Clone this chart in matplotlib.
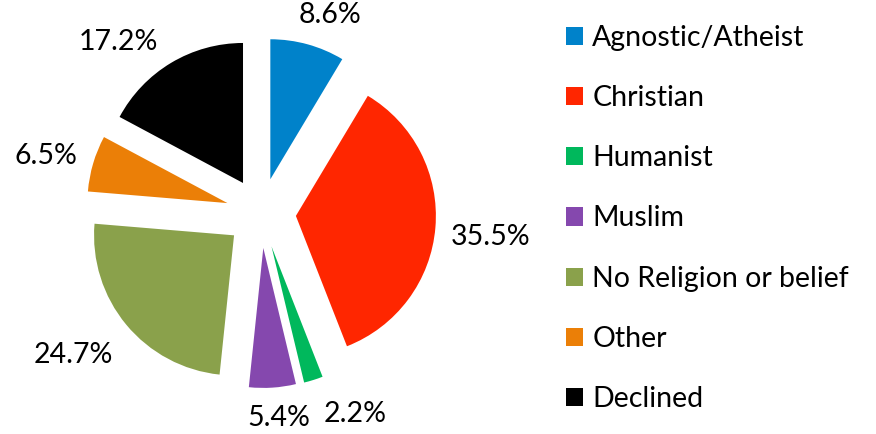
import numpy as np
import matplotlib
matplotlib.use("Agg")
import matplotlib.pyplot as plt
from matplotlib.patches import Patch

plt.rcParams['font.family'] = ['Lato', 'DejaVu Sans']

categories = ["Agnostic/Atheist", "Christian", "Humanist", "Muslim",
              "No Religion or belief", "Other", "Declined"]
shares = [8.6, 35.5, 2.2, 5.4, 24.7, 6.5, 17.2]
colors = ["#0082CA", "#FF2600", "#00B85C", "#8548AE", "#8AA14B", "#EB7F07", "#000000"]

# radial distance of each percentage label (in pie radii, from the shifted wedge tip)
label_dist = [1.25, 1.40, 1.34, 1.22, 1.43, 1.34, 1.34]
label_turn = [-4.5, -1.5, 9.0, 1.5, -3.0, 2.0, 10.5]

W, H, DPI = 876, 434, 100
FS = 20.5
fig = plt.figure(figsize=(W / DPI, H / DPI), dpi=DPI)
ax = fig.add_axes([0, 0, 1, 1])

R = 140.0          # pie radius in pixels
cx, cy = 261.0, H - 213.0
explode = [0.25] * len(shares)

wedges, _ = ax.pie(shares, colors=colors, startangle=90, counterclock=False,
                   explode=explode, radius=1.0, center=(0, 0),
                   wedgeprops=dict(linewidth=0))

for w, val, d, turn in zip(wedges, shares, label_dist, label_turn):
    mid = np.deg2rad((w.theta1 + w.theta2) / 2)
    ex, ey = w.center
    lab = mid + np.deg2rad(turn)
    ax.text(ex + d * np.cos(lab), ey + d * np.sin(lab), f"{val}%",
            ha="center", va="center", fontsize=FS, color="black")

ax.set_xlim(-cx / R, (W - cx) / R)
ax.set_ylim(-cy / R, (H - cy) / R)
ax.set_aspect("equal")
ax.axis("off")

handles = [Patch(facecolor=c, edgecolor="none") for c in colors]
fig.legend(handles, categories, loc="upper left", bbox_to_anchor=(566 / W, 1 - 25 / H),
           frameon=False, fontsize=FS, handlelength=0.6, handleheight=0.6,
           handletextpad=0.32, labelspacing=1.2, borderaxespad=0, borderpad=0)

fig.savefig("out.png", dpi=DPI)
